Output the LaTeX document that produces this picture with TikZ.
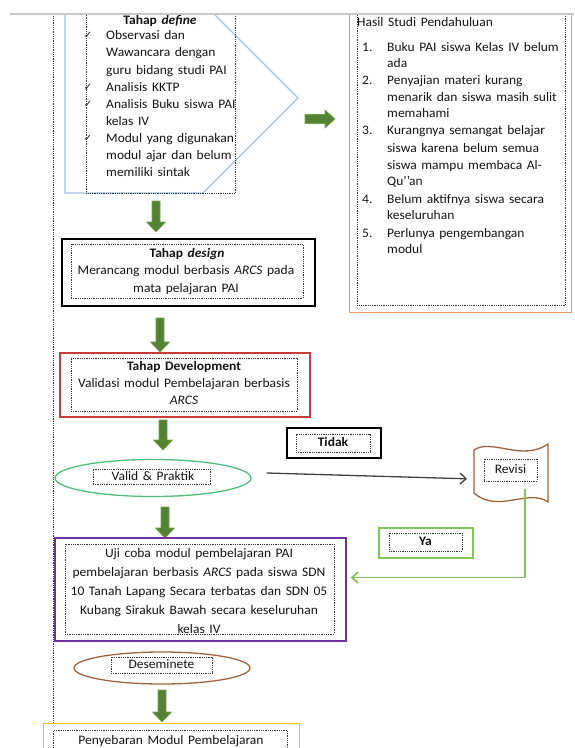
\documentclass[tikz,border=0pt]{standalone}
\usepackage{fontspec}
\setmainfont{Carlito}[WordSpace=1.5, FakeStretch=1.04]
\newfontfamily\djv{DejaVu Sans}
\usetikzlibrary{arrows.meta,shapes.geometric}
\definecolor{agreen}{RGB}{84,130,53}
\definecolor{agreenl}{RGB}{112,165,70}
\definecolor{pblue}{RGB}{157,195,230}
\definecolor{porange}{RGB}{240,150,90}
\definecolor{pred}{RGB}{200,60,60}
\definecolor{ppurple}{RGB}{112,48,160}
\definecolor{pyellow}{RGB}{255,192,0}
\definecolor{pbrown}{RGB}{160,100,60}
\definecolor{pgreenel}{RGB}{80,190,120}
\definecolor{pyagreen}{RGB}{130,195,90}
\definecolor{ptop}{RGB}{200,200,200}
\definecolor{ptxt}{RGB}{20,20,20}
\tikzset{
  txt/.style={inner sep=0pt, text height=9pt, text depth=3pt, text=ptxt, font=\fontsize{13}{15}\selectfont},
  btxt/.style={txt, font=\bfseries\fontsize{13}{15}\selectfont},
  dotbox/.style={draw=black!80, densely dotted, line width=0.8pt, inner sep=0pt},
  frame/.style={line width=1.3pt, inner sep=0pt, fill=white},
  blk/.style={fill=agreen, draw=agreenl, line width=0.6pt},
  pics/dnarr/.style={code={\path[blk] (-4,0) -- (4,0) -- (4,#1-10) -- (9.5,#1-10) -- (0,#1) -- (-9.5,#1-10) -- (-4,#1-10) -- cycle;}},
  pics/rtarr/.style={code={\path[blk] (0,-4.5) -- (20,-4.5) -- (20,-9) -- (30,0) -- (20,9) -- (20,4.5) -- (0,4.5) -- cycle;}},
  barb/.style={-{Straight Barb[length=6pt,width=11pt]}},
  chk/.style={inner sep=0pt, text=ptxt, font=\djv\fontsize{10}{10}\selectfont},
}
\begin{document}
\begin{tikzpicture}[x=1pt,y=-1pt]
\useasboundingbox (0,0) rectangle (574,748);
\fill[white] (0,0) rectangle (574,748);
\begin{scope}
\clip (0,14) rectangle (574,748);
% left dotted line
\draw[densely dotted, line width=0.8pt, black!80] (53,0) -- (53,748);
% define pentagon
\draw[pblue, line width=1.3pt] (65,0) -- (65,193) -- (203,193) -- (298,98) -- (200,0);
\node[dotbox, anchor=north west, minimum width=149pt, minimum height=213pt] (defbox) at (86,-20) {};
\node[btxt] (deft) at (160,21) {Tahap \textit{define}};
\foreach \yy/\tt in {36/Observasi dan, 53/Wawancara dengan, 71/guru bidang studi  PAI, 88/Analisis  KKTP, 105/Analisis  Buku siswa PAI, 122/kelas IV, 139/Modul  yang digunakan, 156/modul  ajar dan belum, 173/memiliki  sintak}
  \node[txt, anchor=west] (dl\yy) at (106,\yy) {\tt};
\foreach \yy in {36,88,105,139}
  \node[chk] (ck\yy) at (88,\yy-1) {✓};
% hasil studi
\node[frame, draw=porange, anchor=north west, minimum width=222pt, minimum height=332pt] (hasil) at (349,-20) {};
\node[dotbox, anchor=north west, minimum width=208pt, minimum height=325pt] (hasilin) at (357,-20) {};
\node[txt, anchor=west] (hst) at (357,23) {Hasil Studi  Pendahuluan};
\foreach \yy/\nn in {48/1., 81/2., 131/3., 200/4., 234/5.}
  \node[txt, anchor=west] (hn\yy) at (362,\yy) {\nn};
\foreach \yy/\tt in {48/Buku PAI siswa Kelas IV belum, 64/ada, 81/Penyajian  materi kurang, 98/menarik dan siswa masih sulit, 114/memahami, 131/Kurangnya  semangat belajar, 149/siswa karena belum  semua, 166/siswa mampu membaca  Al-, 182/Qu{'}{'}an, 200/Belum  aktifnya siswa secara, 216/keseluruhan, 234/Perlunya pengembangan, 250/modul}
  \node[txt, anchor=west] (hl\yy) at (387,\yy) {\tt};
\pic (ar0) at (305,119) {rtarr};
\end{scope}
% top gray line
\draw[ptop, line width=2pt] (10,13.5) -- (574,13.5);
% arrow 1
\pic (ar1) at (156,201) {dnarr=31};
% design
\node[frame, draw=black, minimum width=253pt, minimum height=67pt] (design) at (188.5,272.5) {};
\node[dotbox, minimum width=232pt, minimum height=54pt] (designin) at (187,271) {};
\node[btxt] (dst1) at (187,254) {Tahap \textit{design}};
\node[txt] (dst2) at (186,271) {Merancang  modul  berbasis \textit{ARCS} pada};
\node[txt] (dst3) at (186,289) {mata  pelajaran PAI};
% arrow 2
\pic (ar2) at (160,318) {dnarr=34};
% development
\node[frame, draw=pred, minimum width=250pt, minimum height=64pt] (dev) at (185,385) {};
\node[dotbox, minimum width=226pt, minimum height=53pt] (devin) at (184,384.5) {};
\node[btxt] (dvt1) at (184,367) {Tahap  Development};
\node[txt] (dvt2) at (184,384) {Validasi modul  Pembelajaran  berbasis};
\node[txt] (dvt3) at (184,401) {\textit{ARCS}};
% arrow 3
\pic (ar3) at (163,420) {dnarr=30};
% valid ellipse
\node[ellipse, draw=pgreenel, line width=1.3pt, minimum width=196pt, minimum height=37pt, inner sep=0pt] (valid) at (153,478) {};
\node[dotbox, minimum width=117pt, minimum height=15pt] (validin) at (151.5,476.5) {};
\node[txt] (vt) at (153,477) {Valid \& Praktik};
% tidak
\node[frame, draw=black, minimum width=94pt, minimum height=30pt] (tidak) at (334,443) {};
\node[dotbox, minimum width=74pt, minimum height=18pt] (tidakin) at (333,443) {};
\node[btxt] (tt) at (333,443) {Tidak};
% revisi
\draw[pbrown, line width=1.3pt, fill=white] (474,450) .. controls (492,438) and (522,462) .. (548,444) -- (548,502) .. controls (528,488) and (498,514) .. (474,493) -- cycle;
\node[dotbox, minimum width=53pt, minimum height=22pt] (revisi) at (510.5,470) {};
\node[txt] (rt) at (510.5,470) {Revisi};
\coordinate (revL) at (474,479);
\coordinate (revB) at (525,489);
% ya
\node[frame, draw=pyagreen, line width=1.2pt, minimum width=94pt, minimum height=30pt] (ya) at (426,543) {};
\node[dotbox, minimum width=73pt, minimum height=18pt] (yain) at (425.5,542) {};
\node[btxt] (yt) at (425.5,542) {Ya};
% arrow 4
\pic (ar4) at (165,507) {dnarr=31};
% uji coba
\node[frame, draw=ppurple, minimum width=291pt, minimum height=103pt] (uji) at (200.5,589.5) {};
\node[dotbox, minimum width=269pt, minimum height=90pt] (ujiin) at (199.5,589) {};
\node[txt] (u1) at (199,554) {Uji  coba  modul  pembelajaran  PAI};
\node[txt] (u2) at (199,573) {pembelajaran  berbasis \textit{ARCS}  pada siswa SDN};
\node[txt] (u3) at (199,592) {10 Tanah Lapang Secara terbatas dan SDN 05};
\node[txt] (u4) at (199,611) {Kubang  Sirakuk Bawah secara keseluruhan};
\node[txt] (u5) at (199,630) {kelas IV};
% connectors
\draw[black!75, line width=1.3pt, barb, shorten >=7pt] ([xshift=15pt,yshift=5pt]valid.east) -- (revL);
\draw[pyagreen, line width=1.8pt, barb, shorten >=4pt] (revB) |- ([yshift=12pt]uji.east);
% deseminete
\node[ellipse, draw=pbrown, line width=1.3pt, minimum width=176pt, minimum height=32pt, inner sep=0pt] (desem) at (162,668) {};
\node[dotbox, minimum width=101pt, minimum height=16pt] (desemin) at (161.5,665) {};
\node[txt] (dst) at (161.5,665) {Deseminete};
% arrow 5
\pic (ar5) at (162,690) {dnarr=32};
% penyebaran
\node[frame, draw=pyellow, anchor=north west, minimum width=256pt, minimum height=60pt] (peny) at (43,723) {};
\node[dotbox, anchor=north west, minimum width=234pt, minimum height=50pt] (penyin) at (53,730) {};
\node[txt] (pt) at (171,741) {Penyebaran  Modul  Pembelajaran};
\end{tikzpicture}
\end{document}
